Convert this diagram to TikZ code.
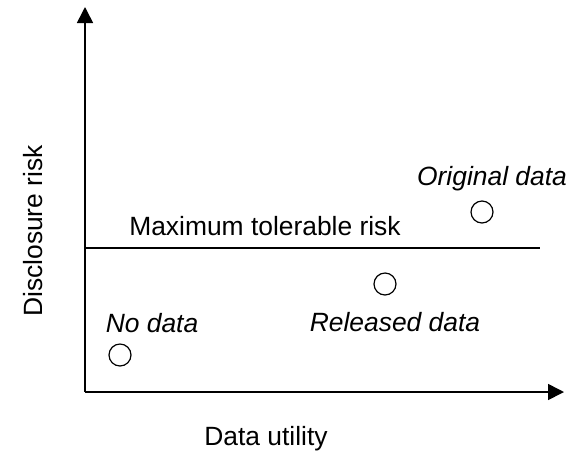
\documentclass[tikz,border=0pt]{standalone}
\usepackage{fontspec}
\setmainfont{Liberation Sans}
\usetikzlibrary{arrows.meta}
\begin{document}
\begin{tikzpicture}[x=0.5pt,y=-0.5pt,
  axis/.style={line width=0.8pt,-{Triangle[length=8pt,width=8pt]}},
  lbl/.style={inner sep=0pt,anchor=base,font=\fontsize{13.2}{16}\selectfont},
  ilbl/.style={lbl,font=\fontsize{13.2}{16}\selectfont\itshape},
  pt/.style={circle,draw,line width=0.6pt,minimum size=11pt,inner sep=0pt}]
\useasboundingbox (0,0) rectangle (582,451);
\coordinate (O) at (85,392);
\coordinate (ytip) at (85,7);
\coordinate (xtip) at (564,392);
\coordinate (mL) at (85,248);
\coordinate (mR) at (540,248);
\draw[axis] (O) -- (ytip);
\draw[axis] (O) -- (xtip);
\draw[line width=0.8pt] (mL) -- (mR);
\node[lbl] (mtr) at (265,235) {Maximum tolerable risk};
\node[ilbl] (orig) at (492,185) {Original data};
\node[ilbl] (rel) at (395,331) {Released data};
\node[ilbl] (nod) at (152,332) {No data};
\node[pt] (corig) at (482,212) {};
\node[pt] (crel) at (385,284) {};
\node[pt] (cnod) at (120,355) {};
\node[lbl] (xl) at (266,445) {Data utility};
\node[lbl,rotate=90] (yl) at (42,231) {Disclosure risk};
\end{tikzpicture}
\end{document}
